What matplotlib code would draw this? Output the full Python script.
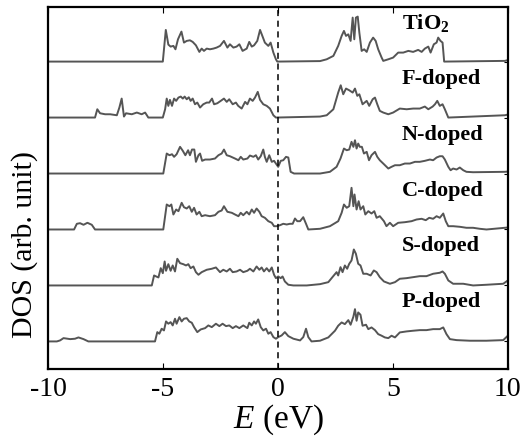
import numpy as np
import matplotlib
matplotlib.use("Agg")
import matplotlib.pyplot as plt

plt.rcParams['font.family'] = 'Liberation Serif'
plt.rcParams['mathtext.fontset'] = 'custom'
plt.rcParams['mathtext.rm'] = 'Liberation Serif'
plt.rcParams['mathtext.it'] = 'Liberation Serif:italic'
plt.rcParams['mathtext.bf'] = 'Liberation Serif:bold'
plt.rcParams['axes.unicode_minus'] = False

# DOS curves (energy in eV, DOS in arb. units)
labels = ['TiO$_\\mathbf{2}$', 'F-doped', 'N-doped', 'C-doped', 'S-doped', 'P-doped']

e_tio2 = [-10, -5.01, -4.88, -4.77, -4.67, -4.55, -4.46, -4.35, -4.20, -4.09, -3.97, -3.83, -3.71, -3.57,
          -3.42, -3.32, -3.22, -3.10, -2.96, -2.81, -2.67, -2.52, -2.35, -2.20, -2.09, -1.94, -1.80, -1.68,
          -1.54, -1.36, -1.25, -1.14, -1.04, -0.90, -0.78, -0.68, -0.57, -0.42, -0.32, -0.20, -0.09, -0.03,
          1.83, 2.12, 2.41, 2.62, 2.77, 2.87, 2.96, 3.06, 3.16, 3.25, 3.32, 3.39, 3.47, 3.54, 3.64, 3.75,
          3.86, 4.00, 4.14, 4.25, 4.36, 4.51, 4.58, 4.80, 5.01, 5.23, 5.45, 5.67, 5.88, 6.10, 6.25, 6.39,
          6.54, 6.64, 6.78, 6.90, 6.97, 7.07, 7.16, 7.23, 9.87, 10]
d_tio2 = [0, 0, 31.7, 17, 15, 15.7, 12.3, 22.3, 30, 19, 20.7, 21.3, 19.7, 16.3, 9.7, 13, 10.7, 13, 12.3,
          13, 14, 15.7, 20.7, 14, 17.3, 14, 15, 17.3, 10.7, 13, 19.7, 15, 16.3, 20.7, 31.7, 25.7, 19, 15.7,
          19, 9, 2.3, 0, 0.5, 2.3, 5.7, 15.7, 25.7, 30.7, 25.7, 27.3, 20.7, 44, 22.3, 44, 45, 29, 10.7,
          12.3, 9.7, 19, 24, 20.7, 12.3, 4, 0.7, 2.3, 4, 9, 9, 10.7, 9.7, 11.7, 9.7, 13, 15, 9, 17.3, 19,
          24, 20.7, 19, 0, 0.7, 1.5]

e_f = [-10, -7.96, -7.86, -7.74, -7.52, -7.30, -7.01, -6.90, -6.80, -6.70, -6.61, -6.36, -6.14, -5.93,
       -5.78, -5.64, -5.01, -4.91, -4.84, -4.77, -4.70, -4.61, -4.52, -4.43, -4.33, -4.23, -4.14, -4.06,
       -3.97, -3.88, -3.80, -3.71, -3.61, -3.51, -3.39, -3.25, -3.10, -2.99, -2.87, -2.78, -2.64, -2.49,
       -2.35, -2.23, -2.12, -1.97, -1.83, -1.73, -1.58, -1.43, -1.33, -1.22, -1.10, -1.00, -0.88, -0.78,
       -0.64, -0.49, -0.35, -0.20, -0.09, 1.83, 2.12, 2.41, 2.62, 2.73, 2.84, 2.96, 3.10, 3.25, 3.35,
       3.45, 3.54, 3.68, 3.86, 3.97, 4.12, 4.22, 4.32, 4.43, 4.58, 4.80, 5.01, 5.30, 5.60, 5.88, 6.17,
       6.39, 6.54, 6.73, 6.83, 6.93, 7.04, 7.16, 7.26, 7.41, 9.87, 10]
d_f = [0, 0, 8.3, 4.3, 3.3, 3.3, 2.3, 10, 19, 1, 4.3, 3.3, 5, 3.3, 5, 0, 0, 8.3, 19, 11.7, 17.7, 11.7, 19,
       16.7, 20, 21, 19, 21, 18.3, 20.3, 16.7, 19, 13.3, 15, 10, 13.3, 15, 15, 19, 13.3, 14.3, 16.7, 19,
       15.7, 18.3, 13.3, 15, 11.7, 9, 15.7, 13.3, 19, 16.7, 20, 25.7, 17.7, 13.3, 11.7, 9, 2.3, 0, 1, 2.3,
       8.3, 25, 32.3, 23.3, 29, 27.3, 25, 29, 21.7, 23.3, 13.3, 16.7, 11.7, 18.3, 20, 13.3, 6.7, 5, 3.3,
       5, 9, 8.3, 9, 9, 11, 8.3, 11, 13.3, 16.7, 11.7, 13.3, 8.3, 0, 2.3, 3]

e_n = [-10, -4.99, -4.84, -4.72, -4.61, -4.52, -4.41, -4.26, -4.14, -4.03, -3.91, -3.83, -3.74, -3.64,
       -3.57, -3.46, -3.39, -3.30, -3.17, -2.96, -2.74, -2.59, -2.45, -2.35, -2.23, -2.09, -1.87, -1.72,
       -1.62, -1.51, -1.33, -1.22, -1.07, -0.96, -0.86, -0.75, -0.64, -0.57, -0.49, -0.38, -0.27, -0.17,
       -0.09, 0.01, 0.12, 0.23, 0.35, 0.45, 0.55, 0.70, 1.83, 2.26, 2.55, 2.72, 2.87, 2.99, 3.10, 3.20,
       3.28, 3.35, 3.42, 3.49, 3.56, 3.65, 3.74, 3.86, 3.96, 4.07, 4.22, 4.32, 4.43, 4.61, 4.80, 4.94,
       5.09, 5.30, 5.52, 5.74, 5.96, 6.17, 6.39, 6.61, 6.75, 6.90, 7.04, 7.16, 7.26, 7.41, 7.51, 7.62,
       7.77, 7.91, 8.06, 8.20, 8.49, 9.87, 10]
d_n = [0, 0, 20, 18.3, 19.3, 16.7, 19.3, 26.7, 22.7, 18.3, 23.3, 18.3, 24, 24, 11.7, 18.3, 20, 12.7, 14,
       14, 15, 18.3, 20, 24, 18.3, 17.3, 15, 13.3, 16.7, 14, 15, 18, 16.7, 18.3, 14, 17.3, 24, 16.7, 11.7,
       18.3, 11.7, 12.7, 10, 6.7, 12.7, 13.3, 16.7, 16, 1.7, 0, 0, 1.7, 6.7, 15, 25, 23.3, 24, 31.7, 26.7,
       33.3, 25, 30, 26.7, 26.7, 20, 21.7, 13.3, 18.3, 21.7, 16.7, 13.3, 9.3, 5, 6.7, 8.3, 8.3, 10, 10,
       11.7, 11.7, 12.7, 14, 13.3, 16, 17.3, 17.3, 14, 6.7, 3.3, 5, 4, 6, 3.3, 1.7, 1.3, 1.7, 2]

e_c = [-10, -8.87, -8.75, -8.61, -8.46, -8.29, -8.10, -7.96, -4.99, -4.84, -4.72, -4.64, -4.55, -4.43,
       -4.33, -4.19, -4.09, -3.97, -3.86, -3.75, -3.65, -3.54, -3.42, -3.32, -3.17, -2.96, -2.74, -2.59,
       -2.45, -2.35, -2.20, -2.01, -1.87, -1.72, -1.62, -1.51, -1.36, -1.25, -1.14, -1.04, -0.93, -0.81,
       -0.71, -0.57, -0.42, -0.27, -0.17, -0.06, 0.09, 0.23, 0.38, 0.52, 0.64, 0.74, 0.84, 0.96, 1.10,
       1.22, 1.32, 1.83, 2.26, 2.62, 2.77, 2.87, 2.99, 3.10, 3.20, 3.28, 3.33, 3.42, 3.51, 3.59, 3.71,
       3.80, 3.93, 4.07, 4.19, 4.29, 4.43, 4.61, 4.72, 4.87, 5.01, 5.23, 5.52, 5.81, 6.03, 6.25, 6.43,
       6.58, 6.75, 6.90, 7.04, 7.19, 7.30, 7.41, 7.62, 7.91, 8.20, 8.49, 8.78, 9.07, 9.87, 10]
d_c = [0, 0, 5.7, 6.3, 4.7, 6.7, 4.7, 0, 0, 25, 23.3, 25, 15, 20, 18.3, 26.7, 22.3, 21, 23.3, 17.7, 21.7,
       15, 17.7, 13.3, 14.3, 13.3, 14.3, 17.7, 19, 23.3, 17.7, 16.7, 15, 13.3, 16.7, 14.3, 17.7, 15, 20,
       16.7, 21, 17.7, 13.3, 11.7, 8.3, 6.7, 3.3, 3.3, 4.3, 5.7, 5, 5.7, 5.7, 11, 8.3, 8.3, 12.3, 5.7, 0,
       0.7, 3.3, 8.3, 16.7, 25, 21.7, 23.3, 41.7, 23.3, 35, 20, 28.3, 20, 23.3, 15, 18.3, 16, 18.3, 11.7,
       13.3, 8.3, 3.3, 6.7, 3.3, 6.7, 7.3, 8.3, 10, 10.7, 9.3, 11.7, 10.7, 13.3, 11.7, 16, 8.3, 3.3, 3.3,
       2.7, 1.7, 1.7, 0.7, 0, 1.7, 2]

e_s = [-10, -5.49, -5.39, -5.30, -5.20, -5.10, -5.01, -4.93, -4.87, -4.77, -4.67, -4.58, -4.48, -4.38,
       -4.26, -4.12, -4.00, -3.90, -3.80, -3.68, -3.57, -3.46, -3.32, -3.10, -2.88, -2.70, -2.52, -2.38,
       -2.23, -2.09, -1.97, -1.80, -1.65, -1.51, -1.33, -1.22, -1.07, -0.93, -0.81, -0.71, -0.61, -0.49,
       -0.38, -0.27, -0.17, -0.09, 0.01, 0.12, 0.20, 0.30, 0.45, 0.67, 1.25, 1.83, 2.19, 2.43, 2.55,
       2.62, 2.72, 2.81, 2.91, 3.01, 3.10, 3.20, 3.30, 3.39, 3.49, 3.59, 3.71, 3.86, 4.03, 4.17, 4.29,
       4.43, 4.61, 4.87, 5.09, 5.30, 5.59, 5.88, 6.17, 6.46, 6.75, 7.04, 7.16, 7.26, 7.41, 7.62, 8.06,
       8.49, 9.07, 9.80, 10]
d_s = [0, 0, 10, 9, 8, 17.3, 12.3, 24, 14.7, 21.3, 14.7, 20, 14, 26.7, 22.3, 21.3, 20, 21.3, 17.3, 19,
       13.3, 10.7, 13.3, 15.7, 16.7, 18, 13.3, 15.7, 14, 16.7, 13.3, 14, 15.7, 13.3, 14.7, 16.7, 14, 19,
       15.7, 18, 14, 17.3, 14, 18, 10.7, 7.3, 9, 7.3, 9, 4, 0.7, 0, 0, 1.3, 3.3, 10, 13.3, 10, 18.3, 13.3,
       20, 16.7, 21.7, 25, 36, 31.7, 21.7, 20, 11.7, 11.7, 10, 15, 13.3, 8.3, 4, 1.7, 3.3, 6.7, 7.3, 8.3,
       9.3, 9.3, 11.7, 12.7, 14, 11.7, 5, 1.7, 1.7, 0, 0.7, 1.7, 5]

e_p = [-10, -9.62, -9.48, -9.33, -9.04, -8.83, -8.68, -8.46, -8.25, -5.35, -5.25, -5.16, -5.06, -4.96,
       -4.87, -4.77, -4.67, -4.58, -4.48, -4.41, -4.29, -4.19, -4.09, -3.97, -3.86, -3.75, -3.65, -3.51,
       -3.36, -3.17, -3.03, -2.88, -2.70, -2.55, -2.41, -2.26, -2.12, -1.97, -1.83, -1.68, -1.51, -1.33,
       -1.25, -1.14, -1.04, -0.96, -0.86, -0.75, -0.64, -0.52, -0.42, -0.32, -0.20, -0.09, 0.01, 0.16,
       0.30, 0.45, 0.67, 0.96, 1.10, 1.22, 1.32, 1.46, 1.83, 2.19, 2.48, 2.62, 2.77, 2.91, 3.06, 3.16,
       3.28, 3.35, 3.42, 3.49, 3.59, 3.68, 3.83, 3.93, 4.07, 4.22, 4.36, 4.51, 4.65, 4.80, 4.94, 5.09,
       5.30, 5.59, 5.88, 6.17, 6.46, 6.75, 7.04, 7.19, 7.33, 7.48, 7.77, 8.35, 9.07, 9.80, 10]
d_p = [0, 0, 1, 3.3, 2.3, 2.7, 4, 2.3, 0, 0, 9.3, 7.7, 12.7, 11, 20, 17.7, 19.3, 16, 22.7, 17.7, 24.3, 20,
       22.7, 23.3, 20, 18.7, 14.3, 9.3, 12, 13.3, 16, 14.3, 17.7, 15.3, 17.7, 15.3, 16, 13.3, 15.3, 13.3,
       16, 13.3, 18.7, 16, 20, 17.7, 22, 14.3, 11, 12.7, 7.7, 9.3, 4.3, 2.7, 4.3, 6, 9.3, 5.3, 2.7, 1,
       4.3, 12.7, 4.3, 0, 0.7, 4, 10.7, 15.7, 19, 17.3, 21.3, 16.7, 24.7, 32.3, 20.7, 29, 26.7, 15.7,
       16.7, 12.3, 14, 11.3, 7.3, 5.7, 4, 3.3, 5.7, 4, 9, 10, 10.7, 11.3, 11.3, 12.3, 12.3, 14, 7.3, 2.3,
       1.3, 0.7, 0.7, 1.3, 5.7]

energies = [e_tio2, e_f, e_n, e_c, e_s, e_p]
dos = [d_tio2, d_f, d_n, d_c, d_s, d_p]

step = 56  # vertical offset between curves
fig = plt.figure(figsize=(5.23, 4.45), dpi=100)
ax = fig.add_axes([0.092, 0.171, 0.879, 0.813])

n = len(labels)
for i, (e, d, lab) in enumerate(zip(energies, dos, labels)):
    off = (n - 1 - i) * step
    ax.plot(e, np.array(d) + off, color='#555555', lw=1.4)
    ax.text(5.4, off + 39, lab, fontsize=16, fontweight='bold', va='center', ha='left')

ax.axvline(0, color='black', lw=1.1, ls=(0, (4, 3)))

ax.set_xlim(-10, 10)
ax.set_ylim(-27.5, 334.5)
ax.set_xticks([-10, -5, 0, 5, 10])
ax.set_yticks([k * step for k in range(n)])
ax.set_yticklabels([])
ax.tick_params(axis='x', direction='in', top=True, length=4, width=0.8, labelsize=20, pad=6)
ax.tick_params(axis='y', direction='in', right=True, left=False, length=3, width=0.8)
for s in ax.spines.values():
    s.set_linewidth(1.6)

ax.set_xlabel('$\\mathit{E}$ (eV)', fontsize=24, labelpad=0)
ax.set_ylabel('DOS (arb. unit)', fontsize=21.5)
ax.yaxis.set_label_coords(-0.022, 0.345)

fig.savefig('out.png', dpi=100)
